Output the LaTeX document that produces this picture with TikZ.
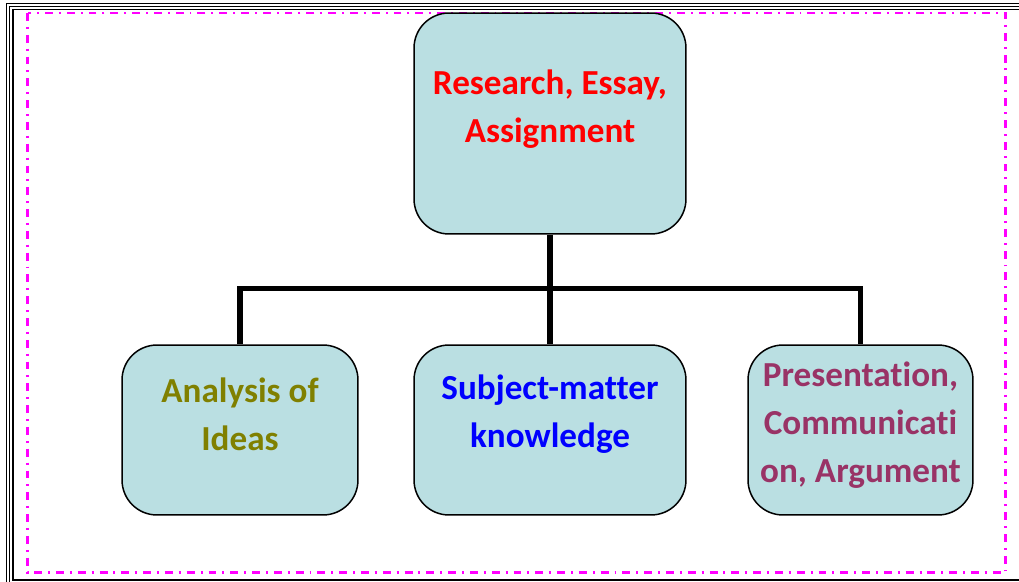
\documentclass[tikz,border=0pt]{standalone}
\usepackage{fontspec}
\setmainfont{Carlito}[Ligatures={NoCommon}]
\definecolor{boxfill}{HTML}{BADFE2}
\definecolor{olivetext}{HTML}{808000}
\definecolor{plumtext}{HTML}{993366}
\definecolor{framepink}{HTML}{FF00FF}

\begin{document}
\begin{tikzpicture}[x=0.02cm,y=-0.02cm]
\tikzstyle{box}=[draw=black, line width=0.85pt, fill=boxfill, rounded corners=0.7cm, inner sep=0pt]
\tikzstyle{txt}=[align=center, inner sep=0pt, font=\fontsize{20}{27.3}\selectfont\bfseries]
\tikzstyle{link}=[draw=black, line width=2.9pt]
\tikzstyle{rule}=[draw=black, line width=0.75pt]
\useasboundingbox (0,0) rectangle (1019,582);
\clip (0,0) rectangle (1019,582);
\draw[rule] (6.7,3.7) rectangle (1060,620);
\draw[rule] (9.8,6.5) rectangle (1060,600);
\draw[rule, line width=1.1pt] (12.7,9.5) rectangle (1060,580);
\draw[framepink, line width=1.4pt, dash pattern=on 4.5pt off 3.4pt on 1.1pt off 3.4pt] (27.5,13) rectangle (1005.5,572.7);
\node[box, minimum width=5.44cm, minimum height=4.42cm] (task) at (550,123.5) {};
\node[txt, red] (tasktext) at (550,109) {Research, Essay,\\Assignment};
\node[box, minimum width=4.72cm, minimum height=3.4cm] (analysis) at (240,430) {};
\node[txt, olivetext] (analysistext) at (240,414) {Analysis of\\Ideas};
\node[box, minimum width=5.44cm, minimum height=3.4cm] (subject) at (550,430) {};
\node[txt, blue] (subjecttext) at (550,414) {Subject-matter\\knowledge};
\node[box, minimum width=4.5cm, minimum height=3.4cm] (present) at (860.5,430) {};
\node[txt, plumtext] (presenttext) at (860.5,425) {Presentation,\\Communicati\\on, Argument};
\draw[link] (task.south) -- (subject.north);
\draw[link] (analysis.north) -- ++(0,-56) -| (present.north);
\end{tikzpicture}
\end{document}
